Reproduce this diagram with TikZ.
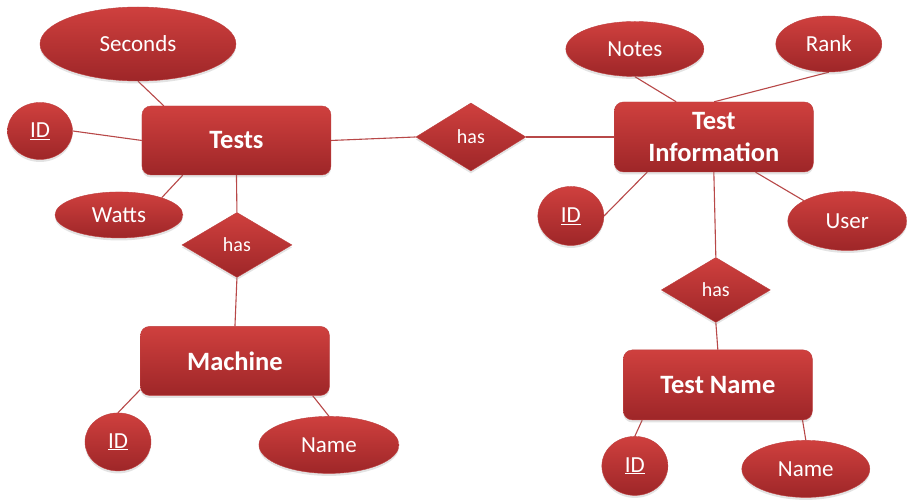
\documentclass[tikz,border=0pt]{standalone}
\usepackage{fontspec}
\setmainfont{Carlito}
\usetikzlibrary{shapes.geometric,shadows,calc}
\definecolor{erTop}{RGB}{207,64,62}
\definecolor{erBot}{RGB}{158,38,40}
\definecolor{erEdge}{RGB}{190,62,62}
\definecolor{erLine}{RGB}{184,72,72}
\pgfdeclarelayer{edges}
\pgfsetlayers{edges,main}
\begin{document}
\begin{tikzpicture}[x=1pt,y=-1pt,
  erfill/.style={top color=erTop,bottom color=erBot,draw=erEdge,line width=0.4pt,
    drop shadow={shadow xshift=0pt,shadow yshift=-2.5pt,opacity=0.22},text=white},
  entity/.style={erfill,rectangle,rounded corners=9pt,minimum width=189pt,
    minimum height=69pt,inner sep=0pt,align=center,
    font=\fontsize{26.5}{32}\selectfont\bfseries},
  attr/.style={erfill,ellipse,inner sep=0pt,font=\fontsize{23}{27}\selectfont},
  rel/.style={erfill,diamond,inner sep=0pt,font=\fontsize{20}{24}\selectfont},
  link/.style={draw=erLine,line width=1.1pt}]

% entities
\node[entity] (tests) at (236.5,140.5) {Tests};
\node[entity] (mach) at (235,361) {Machine};
\node[entity,minimum width=199pt,minimum height=70pt] (ti) at (714,137) {Test\\Information};
\node[entity,minimum height=70pt] (tn) at (718,385) {Test Name};

% relationships
\node[rel,minimum width=110pt,minimum height=65pt] (hasA) at (237,245) {has};
\node[rel,minimum width=110pt,minimum height=68pt] (hasB) at (471,137) {has};
\node[rel,minimum width=109pt,minimum height=65pt] (hasC) at (716,290) {has};

% attributes
\node[attr,minimum width=196pt,minimum height=74pt] (sec) at (138,44) {Seconds};
\node[attr,minimum width=65pt,minimum height=57pt] (idA) at (40,131) {\underline{ID}};
\node[attr,minimum width=128pt,minimum height=46pt] (watts) at (119,215) {Watts};
\node[attr,minimum width=66pt,minimum height=58pt] (idB) at (118,442) {\underline{ID}};
\node[attr,minimum width=140pt,minimum height=57pt] (nameA) at (329,445) {Name};
\node[attr,minimum width=138pt,minimum height=55pt] (notes) at (635,49) {Notes};
\node[attr,minimum width=106pt,minimum height=56pt] (rank) at (829,44) {Rank};
\node[attr,minimum width=66pt,minimum height=59pt] (idC) at (571,216) {\underline{ID}};
\node[attr,minimum width=119pt,minimum height=59pt] (user) at (847.5,221) {User};
\node[attr,minimum width=66pt,minimum height=59pt] (idD) at (635,466) {\underline{ID}};
\node[attr,minimum width=128pt,minimum height=57pt] (nameB) at (806,469) {Name};

% connectors, kept underneath the shapes
\begin{pgfonlayer}{edges}
  \fill[white] (0,0) rectangle (907,500);
  \draw[link] (sec.south) -- ($(tests.north west)+(22,0)$);
  \draw[link] (idA.east) -- (tests.west);
  \draw[link] (watts.22) -- ($(tests.south west)+(41,0)$);
  \draw[link] (tests.south) -- (hasA.north);
  \draw[link] (hasA.south) -- (mach.north);
  \draw[link] ($(mach.south west)+(0,-6)$) -- (idB.north);
  \draw[link] ($(mach.south east)+(-17,0)$) -- (nameA.north);
  \draw[link] (tests.east) -- (hasB.west);
  \draw[link] (hasB.east) -- (ti.west);
  \draw[link] (notes.south) -- ($(ti.north west)+(62,0)$);
  \draw[link] (rank.south) -- ($(ti.north west)+(100,0)$);
  \draw[link] (idC.east) -- ($(ti.south west)+(33,0)$);
  \draw[link] (user.155) -- ($(ti.south east)+(-58,0)$);
  \draw[link] (ti.south) -- (hasC.north);
  \draw[link] (hasC.south) -- (tn.north);
  \draw[link] (idD.north) -- ($(tn.south west)+(19,0)$);
  \draw[link] (nameB.north) -- ($(tn.south east)+(-10,0)$);
\end{pgfonlayer}
\useasboundingbox (0,0) rectangle (907,500);
\end{tikzpicture}
\end{document}
